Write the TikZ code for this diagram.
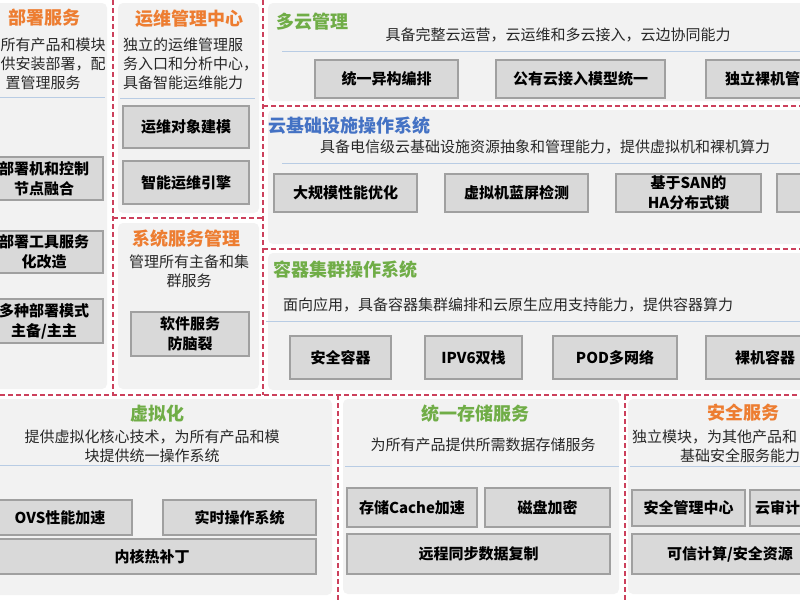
\documentclass[tikz,border=0pt]{standalone}
\usepackage{fontspec}
\setmainfont{Noto Sans CJK SC}
\usetikzlibrary{positioning}
\definecolor{sepred}{RGB}{204,64,92}
\definecolor{panelgray}{RGB}{242,242,242}
\definecolor{boxgray}{RGB}{217,217,217}
\definecolor{boxline}{RGB}{160,160,160}
\definecolor{rulblue}{RGB}{184,204,228}
\definecolor{ttlorange}{RGB}{237,125,49}
\definecolor{ttlgreen}{RGB}{112,173,71}
\definecolor{ttlblue}{RGB}{68,114,196}
\definecolor{desctext}{RGB}{40,40,40}
\begin{document}
\begin{tikzpicture}[x=1pt,y=-1pt,
  panel/.style={fill=panelgray,rounded corners=5pt},
  redsep/.style={draw=sepred,line width=1.6pt,dash pattern=on 5pt off 3pt},
  hrule/.style={draw=rulblue,line width=1pt},
  modbox/.style={draw=boxline,fill=boxgray,line width=1.2pt,inner sep=0pt,outer sep=0pt,align=center,font=\fontsize{15}{20}\selectfont\bfseries},
  ttl/.style={inner sep=0pt,font=\fontsize{18}{22}\selectfont\bfseries},
  desc/.style={inner sep=0pt,text=desctext,font=\fontsize{15}{19}\selectfont}]
\useasboundingbox (0,0) rectangle (800,600);
\clip (0,0) rectangle (800,600);
\fill[white] (0,0) rectangle (800,600);

\fill[panel] (-10,3) rectangle (107,389);
\fill[panel] (118,3) rectangle (259,213);
\fill[panel] (118,223) rectangle (259,389);
\fill[panel] (268,3) rectangle (810,101);
\fill[panel] (268,110) rectangle (810,244);
\fill[panel] (268,253) rectangle (810,390);
\fill[panel] (-10,399) rectangle (332,595);
\fill[panel] (343,399) rectangle (619,594);
\fill[panel] (628,399) rectangle (810,594);

\draw[redsep] (113,0) -- (113,395);
\draw[redsep] (263,0) -- (263,395);
\draw[redsep] (113,218) -- (263,218);
\draw[redsep] (263,106) -- (800,106);
\draw[redsep] (263,249) -- (800,249);
\draw[redsep] (0,395) -- (800,395);
\draw[redsep] (338,395) -- (338,600);
\draw[redsep] (625,395) -- (625,600);

\draw[hrule] (0,97) -- (105,97);
\draw[hrule] (120,98) -- (255,98);
\draw[hrule] (282,51) -- (800,51);
\draw[hrule] (282,163) -- (800,163);
\draw[hrule] (266,321) -- (800,321);
\draw[hrule] (0,465) -- (330,465);
\draw[hrule] (345,466) -- (619,466);
\draw[hrule] (630,466) -- (800,466);

\node[ttl,text=ttlorange] (bsTitle) at (45,18) {部署服务};
\node[desc,anchor=west] (bsDesc1) at (0.5,45) {所有产品和模块};
\node[desc,anchor=west] (bsDesc2) at (0.5,64) {供安装部署，配};
\node[desc] (bsDesc3) at (43,83) {置管理服务};
\node[modbox,minimum width=118pt,minimum height=43pt] (bsFuse) at (44,178.5) {部署机和控制\\节点融合};
\node[modbox,minimum width=118pt,minimum height=42pt] (bsTool) at (44,252) {部署工具服务\\化改造};
\node[modbox,minimum width=118pt,minimum height=44pt] (bsMode) at (44,321) {多种部署模式\\主备/主主};

\node[ttl,text=ttlorange] (ywTitle) at (189,19) {运维管理中心};
\node[desc,anchor=west,align=left] (ywDesc) at (123,64) {独立的运维管理服\\务入口和分析中心，\\具备智能运维能力};
\node[modbox,minimum width=126pt,minimum height=42pt] (ywModel) at (186,127) {运维对象建模};
\node[modbox,minimum width=126pt,minimum height=43pt] (ywEngine) at (186,182.5) {智能运维引擎};

\node[ttl,text=ttlorange] (xtTitle) at (186,239) {系统服务管理};
\node[desc,align=center] (xtDesc) at (189,271) {管理所有主备和集\\群服务};
\node[modbox,minimum width=118pt,minimum height=44pt] (xtSplit) at (190,334) {软件服务\\防脑裂};

\node[ttl,text=ttlgreen] (dyTitle) at (312,22) {多云管理};
\node[desc] (dyDesc) at (558,35) {具备完整云运营，云运维和多云接入，云边协同能力};
\node[modbox,minimum width=143pt,minimum height=38pt] (dyOrch) at (386.5,79) {统一异构编排};
\node[modbox,minimum width=169pt,minimum height=38pt,right=38pt of dyOrch] (dyPublic) {公有云接入模型统一};
\node[modbox,minimum width=113pt,minimum height=38pt,right=41pt of dyPublic] (dyBare) {独立裸机管};

\node[ttl,text=ttlblue,anchor=west] (jcTitle) at (268,126) {云基础设施操作系统};
\node[desc,anchor=west] (jcDesc) at (320,147) {具备电信级云基础设施资源抽象和管理能力，提供虚拟机和裸机算力};
\node[modbox,minimum width=143pt,minimum height=38pt] (jcPerf) at (345.5,193) {大规模性能优化};
\node[modbox,minimum width=143pt,minimum height=38pt,right=28pt of jcPerf] (jcBlue) {虚拟机蓝屏检测};
\node[modbox,minimum width=145pt,minimum height=38pt,right=28pt of jcBlue] (jcLock) {基于SAN的\\HA分布式锁};
\node[modbox,minimum width=143pt,minimum height=38pt,right=16pt of jcLock] (jcMore) {};

\node[ttl,text=ttlgreen,anchor=west] (rqTitle) at (273,270) {容器集群操作系统};
\node[desc,anchor=west] (rqDesc) at (283,305) {面向应用，具备容器集群编排和云原生应用支持能力，提供容器算力};
\node[modbox,minimum width=101pt,minimum height=43pt] (rqSafe) at (340.5,357.5) {安全容器};
\node[modbox,minimum width=97pt,minimum height=43pt,right=34pt of rqSafe] (rqIpv) {IPV6双栈};
\node[modbox,minimum width=124pt,minimum height=43pt,right=31pt of rqIpv] (rqPod) {POD多网络};
\node[modbox,minimum width=118pt,minimum height=43pt,right=29pt of rqPod] (rqBare) {裸机容器};

\node[ttl,text=ttlgreen] (xnTitle) at (157,414) {虚拟化};
\node[desc,align=center] (xnDesc) at (152,446) {提供虚拟化核心技术，为所有产品和模\\块提供统一操作系统};
\node[modbox,minimum width=144pt,minimum height=35pt] (xnOvs) at (60,517.5) {OVS性能加速};
\node[modbox,minimum width=153pt,minimum height=35pt] (xnRt) at (239.5,517.5) {实时操作系统};
\node[modbox,minimum width=328pt,minimum height=35pt] (xnPatch) at (152,556.5) {内核热补丁};

\node[ttl,text=ttlgreen] (ccTitle) at (475,414) {统一存储服务};
\node[desc] (ccDesc) at (483,445) {为所有产品提供所需数据存储服务};
\node[modbox,minimum width=130pt,minimum height=39pt] (ccCache) at (412,507.5) {存储Cache加速};
\node[modbox,minimum width=125pt,minimum height=39pt,right=8pt of ccCache] (ccCrypt) {磁盘加密};
\node[modbox,minimum width=263pt,minimum height=40pt] (ccRepl) at (478.5,554) {远程同步数据复制};

\node[ttl,text=ttlorange] (aqTitle) at (743,413) {安全服务};
\node[desc,anchor=west] (aqDesc1) at (632,437) {独立模块，为其他产品和};
\node[desc,anchor=west] (aqDesc2) at (680,456) {基础安全服务能力};
\node[modbox,minimum width=113pt,minimum height=36pt] (aqCenter) at (688.5,508) {安全管理中心};
\node[modbox,minimum width=55pt,minimum height=36pt,right=5pt of aqCenter] (aqAudit) {云审计};
\node[modbox,minimum width=196pt,minimum height=40pt] (aqTrust) at (730,554) {可信计算/安全资源};
\end{tikzpicture}
\end{document}
